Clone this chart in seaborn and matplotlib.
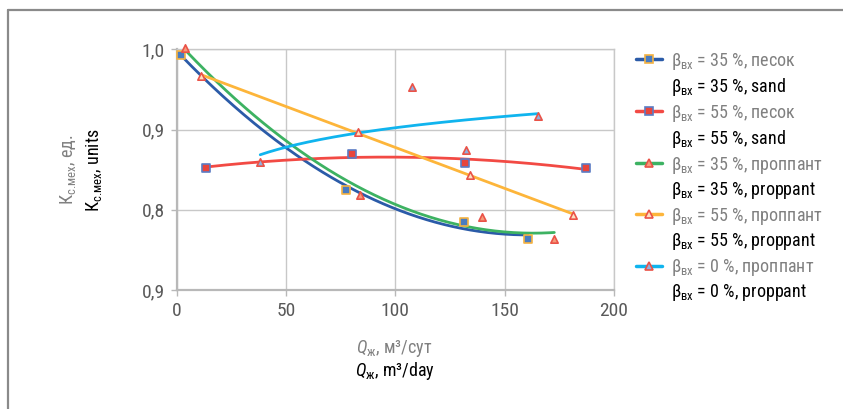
import numpy as np
import pandas as pd
import seaborn as sns
import matplotlib
matplotlib.use("Agg")
import matplotlib.pyplot as plt
from matplotlib.lines import Line2D
from matplotlib import font_manager as fm

# ---- data ----
x_sand35 = [2.0, 77.2, 131.3, 160.6]
y_sand35 = [0.993, 0.825, 0.785, 0.764]
x_sand55 = [13.4, 80.2, 131.8, 187.3]
y_sand55 = [0.852, 0.870, 0.858, 0.852]
x_prop35 = [3.8, 83.6, 139.6, 172.8]
y_prop35 = [1.001, 0.818, 0.791, 0.764]
x_prop55 = [11.1, 83.1, 134.0, 181.2]
y_prop55 = [0.967, 0.897, 0.843, 0.794]
x_prop0 = [38.1, 107.5, 132.4, 165.2]
y_prop0 = [0.860, 0.953, 0.875, 0.917]

x_ticks = [0, 50, 100, 150, 200]
y_ticks = [0.7, 0.8, 0.9, 1.0]
y_tick_labels = ["0,9", "0,8", "0,9", "1,0"]

B = r"$\mathrm{β}_{\mathrm{вх}}$"
labels_ru = [B + " = 35 %, песок", B + " = 55 %, песок",
             B + " = 35 %, проппант", B + " = 55 %, проппант",
             B + " = 0 %, проппант"]
labels_en = [B + " = 35 %, sand", B + " = 55 %, sand",
             B + " = 35 %, proppant", B + " = 55 %, proppant",
             B + " = 0 %, proppant"]

sns.set_theme(style="white")

# look for a condensed / narrow face
names = {f.name for f in fm.fontManager.ttflist}
cond = {}
for f in fm.fontManager.ttflist:
    if str(f.stretch) in ("condensed", "semi-condensed", "extra-condensed", "75", "87"):
        cond.setdefault(f.name, f.stretch)
fam, stretch = None, "normal"
for n in ["Roboto Condensed", "Liberation Sans Narrow", "Open Sans Condensed",
          "Noto Sans Condensed", "DejaVu Sans Condensed"]:
    if n in names:
        fam = n
        break
if fam is None:
    for n in ["Roboto", "Noto Sans", "Open Sans", "DejaVu Sans", "Liberation Sans"]:
        if n in cond:
            fam, stretch = n, cond[n]
            break
if fam is None:
    fam = "Liberation Sans"
    stretch = "normal"
condensed = (fam != "Liberation Sans")

plt.rcParams["font.family"] = [fam, "DejaVu Sans"]
plt.rcParams["font.stretch"] = stretch
sfx = "" if stretch == "normal" else ":stretch=%s" % stretch
plt.rcParams["mathtext.fontset"] = "custom"
plt.rcParams["mathtext.rm"] = fam + sfx
plt.rcParams["mathtext.it"] = fam + ":italic" + sfx
plt.rcParams["mathtext.bf"] = fam + ":bold" + sfx

fs_tick = 14 if condensed else 13.5
fs_txt = 13 if condensed else 12.5

fig = plt.figure(figsize=(8.43, 4.09), dpi=100)
ax = fig.add_axes([0.21, 0.291, 0.518, 0.5885])

series = [
    (x_sand35, y_sand35, "#2b5ba8", "s", "#4a7cc0", "#f5b342", "poly"),
    (x_sand55, y_sand55, "#f24a44", "s", "#e8453c", "#5b7cc4", "poly"),
    (x_prop35, y_prop35, "#3db262", "^", "#f59a7a", "#ea5247", "poly"),
    (x_prop55, y_prop55, "#fdb53a", "^", "#fde0c0", "#ea5247", "lin"),
    (x_prop0, y_prop0, "#10b4ee", "^", "#8fb0e0", "#ea5247", "log"),
]

for xs, ys, lc, mk, mfc, mec, kind in series:
    xs = np.array(xs); ys = np.array(ys)
    xx = np.linspace(xs.min(), xs.max(), 200)
    if kind == "poly":
        c = np.polyfit(xs, ys, 2)
        yy = np.polyval(c, xx)
    elif kind == "lin":
        c = np.polyfit(xs, ys, 1)
        yy = np.polyval(c, xx)
    else:
        c = np.polyfit(np.log(xs), ys, 1)
        yy = np.polyval(c, np.log(xx))
    sns.lineplot(x=xx, y=yy, ax=ax, color=lc, lw=2.0, zorder=3)
    sns.scatterplot(x=xs, y=ys, ax=ax, marker=mk, s=28, color=mfc,
                    edgecolor=mec, linewidth=1.2, zorder=4, clip_on=False)

ax.set_xlim(0, 200)
ax.set_ylim(0.7, 1.0)
ax.set_xticks(x_ticks)
ax.set_yticks(y_ticks)
ax.set_yticklabels(y_tick_labels)
ax.grid(True, color="#c8c8c8", lw=1.0)
for side in ["left", "bottom"]:
    ax.spines[side].set_color("#b8b8b8")
    ax.spines[side].set_linewidth(1.6)
for side in ["top", "right"]:
    ax.spines[side].set_color("#c8c8c8")
    ax.spines[side].set_linewidth(1.0)
ax.tick_params(axis="both", which="both", length=4, width=1, color="#b8b8b8",
               labelsize=fs_tick, labelcolor="#595959", pad=5, left=True, bottom=True)
ax.set_xlabel("")
ax.set_ylabel("")

# legend (gray Russian line + black English line)
handles, labs = [], []
for (xs, ys, lc, mk, mfc, mec, kind), lr, le in zip(series, labels_ru, labels_en):
    handles.append(Line2D([], [], color=lc, lw=2.5, marker=mk, markersize=5.5,
                          markerfacecolor=mfc, markeredgecolor=mec, markeredgewidth=1.2))
    labs.append(lr)
    handles.append(Line2D([], [], color="none"))
    labs.append(le)
leg = ax.legend(handles, labs, loc="upper left", bbox_to_anchor=(0.754, 0.876),
                bbox_transform=fig.transFigure, frameon=False, fontsize=fs_txt,
                handlelength=1.45, handletextpad=0.5, labelspacing=0.25,
                borderpad=0, borderaxespad=0)
for i, t in enumerate(leg.get_texts()):
    t.set_color("#808080" if i % 2 == 0 else "#000000")

# axis titles
fig.text(0.468, 0.148, r"$Q_{\mathrm{ж}}$, м³/сут", ha="center", va="center",
         fontsize=fs_txt, color="#808080")
fig.text(0.468, 0.092, r"$Q_{\mathrm{ж}}$, m³/day", ha="center", va="center",
         fontsize=fs_txt, color="#000000")
fig.text(0.081, 0.585, r"$\mathrm{К}_{\mathrm{с.\!мех}}$, ед.", ha="center", va="center",
         rotation=90, fontsize=fs_txt, color="#808080")
fig.text(0.111, 0.585, r"$\mathrm{К}_{\mathrm{с.\!мех}}$, units", ha="center", va="center",
         rotation=90, fontsize=fs_txt, color="#000000")

# outer frame (top and left)
fig.add_artist(Line2D([8/843, 1.0], [1 - 10/409, 1 - 10/409], transform=fig.transFigure,
                      color="#8a8a8a", lw=1.6))
fig.add_artist(Line2D([8/843, 8/843], [0, 1 - 10/409], transform=fig.transFigure,
                      color="#8a8a8a", lw=1.6))

fig.savefig("out.png", dpi=100)
